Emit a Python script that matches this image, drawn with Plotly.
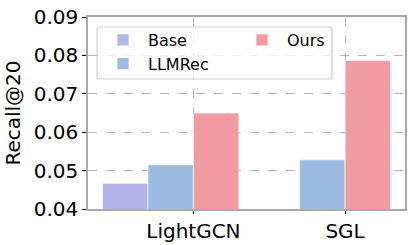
import plotly.graph_objects as go

categories = ["LightGCN", "SGL"]
base_vals = [0.0467, None]
llmrec_vals = [0.0515, 0.0528]
ours_vals = [0.0650, 0.0787]
y_ticks = [0.04, 0.05, 0.06, 0.07, 0.08, 0.09]

FONT = "DejaVu Sans"
W, H = 415, 245
L, R, T, B = 88, 10, 17, 36

fig = go.Figure()
series = [
    ("Base", base_vals, "#b4b4e8", -0.6, "legend"),
    ("LLMRec", llmrec_vals, "#9bbbe0", -0.3, "legend"),
    ("Ours", ours_vals, "#f09ca0", 0.0, "legend2"),
]
for name, vals, color, off, leg in series:
    fig.add_trace(go.Bar(
        x=categories, y=vals, name=name, offset=off, width=0.3,
        marker=dict(color=color, line=dict(color="rgba(255,255,255,0.7)", width=1)),
        legend=leg,
    ))

pw = W - L - R
ph = H - T - B
def px_x(p):
    return (p - L) / pw
def px_y(p):
    return (H - B - p) / ph

# legend box (rounded rectangle)
x0, x1, y0, y1 = px_x(97), px_x(332), px_y(79), px_y(27)
rx, ry = 3 / pw, 3 / ph
path = (f"M{x0+rx},{y0} L{x1-rx},{y0} Q{x1},{y0} {x1},{y0+ry} L{x1},{y1-ry} Q{x1},{y1} {x1-rx},{y1} "
        f"L{x0+rx},{y1} Q{x0},{y1} {x0},{y1-ry} L{x0},{y0+ry} Q{x0},{y0} {x0+rx},{y0} Z")

fig.update_layout(
    width=W, height=H,
    margin=dict(l=L, r=R, t=T, b=B, autoexpand=False),
    plot_bgcolor="white", paper_bgcolor="white",
    barmode="overlay",
    font=dict(family=FONT, size=20, color="black"),
    shapes=[dict(type="path", path=path, xref="paper", yref="paper",
                 line=dict(color="#cfcfcf", width=1.2), fillcolor="rgba(255,255,255,0.8)", layer="above")],
    legend=dict(x=px_x(98), y=px_y(23), xanchor="left", yanchor="top",
                bgcolor="rgba(0,0,0,0)", borderwidth=0,
                font=dict(family=FONT, size=16), tracegroupgap=0, itemwidth=40,
                traceorder="normal"),
    legend2=dict(x=px_x(237), y=px_y(23), xanchor="left", yanchor="top",
                 bgcolor="rgba(0,0,0,0)", borderwidth=0,
                 font=dict(family=FONT, size=16), itemwidth=40),
    xaxis=dict(
        type="category", range=[-0.695, 1.395],
        showline=True, mirror=True, linecolor="#a9a9a9", linewidth=1.5,
        showgrid=True, gridcolor="#b8b8b8", griddash="dash", gridwidth=1,
        ticks="outside", ticklen=3, tickcolor="black",
        tickfont=dict(size=20),
    ),
    yaxis=dict(
        range=[0.04, 0.09], tickvals=y_ticks, tickformat=".2f",
        showline=True, mirror=True, linecolor="#a9a9a9", linewidth=1.5,
        showgrid=True, gridcolor="#b8b8b8", griddash="dash", gridwidth=1,
        ticks="outside", ticklen=4, tickcolor="black",
        tickfont=dict(size=20), zeroline=False,
        title=dict(text="Recall@20", font=dict(size=20), standoff=8),
    ),
)

fig.write_html("out.html", config={"displayModeBar": False},
               post_script="document.body.style.margin='0px';")
